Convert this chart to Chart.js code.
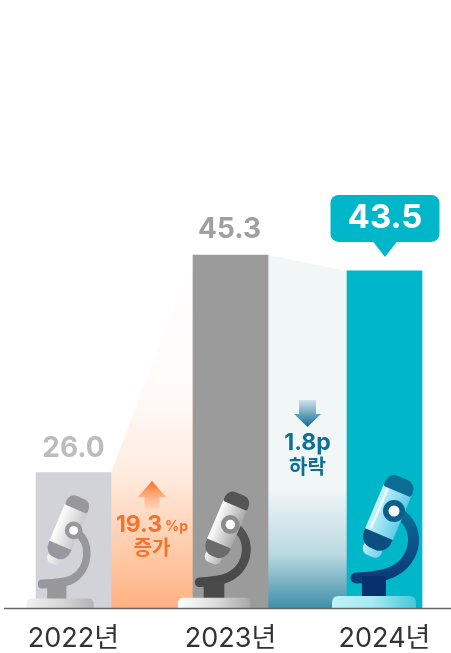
<!DOCTYPE html>
<html lang="ko">
<head>
<meta charset="utf-8">
<style>
  html,body{margin:0;padding:0;background:#fff;}
  canvas{display:block;}
</style>
<script src="https://cdn.jsdelivr.net/npm/chart.js@4"></script>
</head>
<body>
<canvas id="chart" width="451" height="653"></canvas>
<script>
const categories = ['2022년', '2023년', '2024년'];
const values = [26.0, 45.3, 43.5];
const barColors = ['#d2d3d8', '#9b9b9b', '#00b7ca'];
const upChange = ['19.3', '%p', '증가'];
const downChange = ['1.8p', '하락'];

const FONT = 'Inter, "Noto Sans CJK KR", sans-serif';

const scopePalettes = [
  {pill:['#f2f2f2','#d8d8d8','#b4b4b6'], cap:'#97979c', body:['#ffffff','#c9c9cb'], band:'#97979c', arm:['#97979c','#97979c'], stand:'#97979c', ring:'#97979c', shine:'rgba(255,255,255,0)', scale:0.8, dx:-13.5, tube:[8,-96,1.2], armX:0.85, footX:-27, standX:-4},
  {pill:['#ffffff','#dedede','#a9a9a9'], cap:'#555555', body:['#ffffff','#a8a8a8'], band:'#6b6b6b', arm:['#555555','#484848'], stand:'#4a4a4a', ring:'#8b8b8b', shine:'rgba(255,255,255,0)', scale:0.86, dx:-16.5, tube:[13,-92,1.16], armX:0.95, footX:-18, standX:0},
  {pill:['#bff2f9','#a3e9f3','#45c8da'], cap:'#0b6d96', body:['#c8f3fb','#63cbe6'], band:'#0a4f80', arm:['#0b6d9a','#0a3a78'], stand:'#06306e', ring:'#0a5f8c', shine:'rgba(255,255,255,0.75)', scale:1, dx:-10.5, tube:[12,-90.5,1.13], armX:1, footX:-18, standX:0}
];

// the three years are not spaced quite evenly in the picture
class NudgedCategoryScale extends Chart.CategoryScale {
  static id = 'nudgedCategory';
  static defaults = Chart.CategoryScale.defaults;
  getPixelForValue(value){
    const px = super.getPixelForValue(value);
    return Math.round(value) === 1 ? px + 1.5 : px;
  }
}
Chart.register(NudgedCategoryScale);

function drawScope(ctx, x, y, p){
  const s = p.scale;
  ctx.save();
  ctx.translate(x, y);
  ctx.scale(s, s);

  // arm
  ctx.save();
  ctx.scale(p.armX, 1);
  ctx.lineCap = 'round';
  let g = ctx.createLinearGradient(0, -97, 0, -30);
  g.addColorStop(0, p.arm[0]);
  g.addColorStop(1, p.arm[1]);
  ctx.strokeStyle = g;
  ctx.lineWidth = 11;
  ctx.beginPath();
  ctx.moveTo(24, -95);
  ctx.bezierCurveTo(47, -82, 44, -48, 18, -36);
  ctx.quadraticCurveTo(8, -31, p.footX, -30);
  ctx.stroke();
  ctx.restore();

  // stand
  ctx.fillStyle = p.stand;
  ctx.fillRect(p.standX - 12, -32, 24, 21);

  // tube
  ctx.save();
  ctx.translate(p.tube[0], p.tube[1]);
  ctx.rotate(23 * Math.PI / 180);
  ctx.scale(1, p.tube[2]);
  g = ctx.createLinearGradient(-15, 0, 15, 0);
  g.addColorStop(0, p.body[0]);
  g.addColorStop(1, p.body[1]);
  ctx.fillStyle = g;
  ctx.beginPath();
  ctx.roundRect(-10, 24, 20, 13, 7);
  ctx.fill();
  ctx.fillRect(-15, -28, 30, 48);
  ctx.fillStyle = p.shine;
  ctx.fillRect(-11, -26, 2.5, 40);
  ctx.fillStyle = p.band;
  ctx.beginPath();
  ctx.roundRect(-15, 16, 30, 14, [0, 0, 12, 12]);
  ctx.fill();
  ctx.fillStyle = p.cap;
  ctx.beginPath();
  ctx.roundRect(-15, -38, 30, 13, [9, 9, 2, 2]);
  ctx.fill();
  ctx.restore();

  // pivot
  ctx.fillStyle = p.ring;
  ctx.beginPath();
  ctx.arc(20 * p.armX, -97, 11, 0, Math.PI * 2);
  ctx.fill();
  ctx.fillStyle = '#ffffff';
  ctx.beginPath();
  ctx.arc(20 * p.armX, -97, 5.5, 0, Math.PI * 2);
  ctx.fill();

  // base pill
  g = ctx.createLinearGradient(-42, 0, 42, 0);
  g.addColorStop(0, p.pill[0]);
  g.addColorStop(0.5, p.pill[1]);
  g.addColorStop(1, p.pill[2]);
  ctx.fillStyle = g;
  ctx.beginPath();
  ctx.roundRect(-42, -12, 84, 12, [6, 6, 0, 0]);
  ctx.fill();
  ctx.restore();
}

function panel(ctx, a, b, stops, gradTop){
  const ax = a.x + a.width / 2, bx = b.x - b.width / 2;
  const g = ctx.createLinearGradient(0, gradTop, 0, a.base);
  stops.forEach(s => g.addColorStop(s[0], s[1]));
  ctx.fillStyle = g;
  ctx.beginPath();
  ctx.moveTo(ax, a.y);
  ctx.lineTo(bx, b.y);
  ctx.lineTo(bx, b.base);
  ctx.lineTo(ax, a.base);
  ctx.closePath();
  ctx.fill();
}

function arrow(ctx, cx, tail, tip, headBase, stemW, headW, colTail, colTip){
  const g = ctx.createLinearGradient(0, tail, 0, tip);
  g.addColorStop(0, colTail);
  g.addColorStop(1, colTip);
  ctx.fillStyle = g;
  ctx.beginPath();
  ctx.moveTo(cx - stemW / 2, tail);
  ctx.lineTo(cx - stemW / 2, headBase);
  ctx.lineTo(cx - headW / 2, headBase);
  ctx.lineTo(cx, tip);
  ctx.lineTo(cx + headW / 2, headBase);
  ctx.lineTo(cx + stemW / 2, headBase);
  ctx.lineTo(cx + stemW / 2, tail);
  ctx.closePath();
  ctx.fill();
}

const decor = {
  id: 'decor',
  beforeDatasetsDraw(chart){
    const ctx = chart.ctx, bars = chart.getDatasetMeta(0).data;
    ctx.save();
    panel(ctx, bars[0], bars[1], [[0,'#ffffff'],[0.4,'#fffaf7'],[0.62,'#ffecdf'],[1,'#ffb182']], bars[1].y);
    panel(ctx, bars[1], bars[2], [[0,'#f1f6f6'],[0.66,'#f1f6f6'],[0.85,'#b9d8e0'],[1,'#3f8fa9']], bars[1].y);
    ctx.restore();
  },
  afterDatasetsDraw(chart){
    const ctx = chart.ctx, bars = chart.getDatasetMeta(0).data;
    const base = bars[0].base;
    ctx.save();

    // microscopes sit on the baseline of each bar
    bars.forEach((b, i) => drawScope(ctx, b.x + scopePalettes[i].dx, base, scopePalettes[i]));

    // baseline
    ctx.strokeStyle = '#666666';
    ctx.lineWidth = 1.5;
    ctx.beginPath();
    ctx.moveTo(4, base + 0.5);
    ctx.lineTo(451, base + 0.5);
    ctx.stroke();

    ctx.textAlign = 'center';
    ctx.textBaseline = 'middle';

    // value labels
    ctx.font = 'bold 28px ' + FONT;
    ctx.fillStyle = '#bcbcbc';
    ctx.fillText(values[0].toFixed(1), bars[0].x, bars[0].y - 24);
    ctx.fillStyle = '#a0a0a0';
    ctx.fillText(values[1].toFixed(1), bars[1].x - 1, bars[1].y - 25);

    // callout on the latest year
    const c = bars[2];
    ctx.fillStyle = '#00b7ca';
    ctx.beginPath();
    ctx.roundRect(c.x - 54, c.y - 76, 109, 47, 8);
    ctx.fill();
    ctx.beginPath();
    ctx.moveTo(c.x - 12, c.y - 30);
    ctx.lineTo(c.x + 0.5, c.y - 14);
    ctx.lineTo(c.x + 13, c.y - 30);
    ctx.closePath();
    ctx.fill();
    ctx.fillStyle = '#ffffff';
    ctx.font = 'bold 33px ' + FONT;
    ctx.fillText(values[2].toFixed(1), c.x + 0.5, c.y - 53);

    // change notes between the bars
    const upX = (bars[0].x + bars[0].width / 2 + bars[1].x - bars[1].width / 2) / 2;
    const downX = (bars[1].x + bars[1].width / 2 + bars[2].x - bars[2].width / 2) / 2;

    arrow(ctx, upX, 509, 481, 497, 15, 28, 'rgba(255,140,80,0.1)', '#ff6a1f');
    ctx.fillStyle = '#f4722b';
    ctx.textAlign = 'left';
    ctx.font = 'bold 23px ' + FONT;
    const numW = ctx.measureText(upChange[0]).width;
    ctx.font = 'bold 14px ' + FONT;
    const unitW = ctx.measureText(upChange[1]).width;
    const startX = upX - (numW + 3 + unitW) / 2;
    ctx.font = 'bold 23px ' + FONT;
    ctx.fillText(upChange[0], startX, 525);
    ctx.font = 'bold 14px ' + FONT;
    ctx.fillText(upChange[1], startX + numW + 3, 527);
    ctx.textAlign = 'center';
    ctx.font = 'bold 20px ' + FONT;
    ctx.fillText(upChange[2], upX, 549);

    arrow(ctx, downX, 400, 427, 414, 17, 27, '#cfe3ea', '#0d6d94');
    ctx.fillStyle = '#0e6f96';
    ctx.font = 'bold 23px ' + FONT;
    ctx.fillText(downChange[0], downX, 443);
    ctx.font = 'bold 20px ' + FONT;
    ctx.fillText(downChange[1], downX, 468);

    ctx.restore();
  }
};

new Chart(document.getElementById('chart').getContext('2d'), {
  type: 'bar',
  data: {
    labels: categories,
    datasets: [{
      data: values,
      backgroundColor: barColors,
      borderWidth: 0,
      barThickness: 75,
      clip: false
    }]
  },
  options: {
    responsive: false,
    animation: false,
    layout: { padding: { left: 73.5, right: 66.5, top: 201, bottom: 0 } },
    plugins: { legend: { display: false }, tooltip: { enabled: false } },
    scales: {
      x: {
        type: 'nudgedCategory',
        offset: false,
        afterFit(scale){ scale.height = 45; },
        grid: { display: false, drawTicks: false },
        border: { display: false },
        ticks: {
          color: '#333333',
          font: { family: FONT, size: 27, weight: '400' },
          padding: 15,
          autoSkip: false,
          maxRotation: 0
        }
      },
      y: {
        type: 'logarithmic',
        display: false,
        min: 18.4,
        max: 52
      }
    }
  },
  plugins: [decor]
});
</script>
</body>
</html>
